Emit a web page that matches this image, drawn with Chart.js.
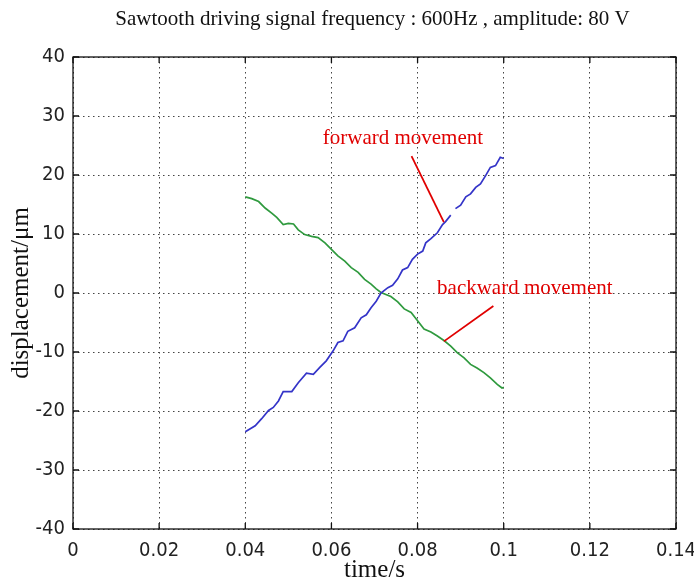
<!DOCTYPE html>
<html>
<head>
<meta charset="utf-8">
<script src="https://cdn.jsdelivr.net/npm/chart.js@4.4.0/dist/chart.umd.min.js"></script>
<style>
  body { margin: 0; background: #fff; }
</style>
</head>
<body>
<canvas id="fonny" width="694" height="585"></canvas>
<script>
const titleText = 'Sawtooth driving signal frequency : 600Hz , amplitude: 80 V';
const xTitle = 'time/s';
const yTitle = 'displacement/\u03bcm';

const xTicks = [0, 0.02, 0.04, 0.06, 0.08, 0.1, 0.12, 0.14];
const xTickLabels = ['0', '0.02', '0.04', '0.06', '0.08', '0.1', '0.12', '0.14'];
const yTicks = [-40, -30, -20, -10, 0, 10, 20, 30, 40];

// forward movement (blue), null = the small break in the trace
const forwardTime = [
    0.0400, 0.0423, 0.0438, 0.0454, 0.0465, 0.0477, 0.0488, 0.0508, 0.0523, 0.0542,
    0.0558, 0.0573, 0.0588, 0.0604, 0.0615, 0.0627, 0.0638, 0.0654, 0.0669, 0.0681,
    0.0692, 0.0704, 0.0715, 0.0731, 0.0742, 0.0754, 0.0765, 0.0777, 0.0788, 0.0800,
    0.0812, 0.0819, 0.0831, 0.0846, 0.0858, 0.0865, 0.0877, 0.0881, 0.0888, 0.0900,
    0.0912, 0.0923, 0.0935, 0.0946, 0.0958, 0.0969, 0.0981, 0.0992, 0.1000
];
const forwardDisp = [
    -23.5, -22.5, -21.3, -19.9, -19.4, -18.3, -16.7, -16.7, -15.2, -13.6,
    -13.8, -12.6, -11.5, -9.8, -8.4, -8.1, -6.5, -5.9, -4.2, -3.7,
    -2.5, -1.4, 0.0, 0.9, 1.3, 2.4, 3.9, 4.3, 5.7, 6.6,
    7.1, 8.5, 9.2, 10.2, 11.6, 12.1, 13.2, null, 14.3, 14.9,
    16.3, 16.8, 17.9, 18.5, 19.9, 21.3, 21.6, 23.0, 22.8
];

// backward movement (green)
const backwardTime = [
    0.0400, 0.0415, 0.0431, 0.0446, 0.0462, 0.0473, 0.0488, 0.0500, 0.0512, 0.0523,
    0.0538, 0.0554, 0.0569, 0.0585, 0.0600, 0.0615, 0.0631, 0.0646, 0.0662, 0.0677,
    0.0692, 0.0704, 0.0715, 0.0738, 0.0754, 0.0769, 0.0785, 0.0800, 0.0815, 0.0831,
    0.0846, 0.0862, 0.0877, 0.0892, 0.0908, 0.0923, 0.0938, 0.0954, 0.0969, 0.0985,
    0.0996, 0.1000
];
const backwardDisp = [
    16.3, 16.0, 15.5, 14.4, 13.5, 12.8, 11.6, 11.8, 11.7, 10.7,
    9.9, 9.6, 9.4, 8.5, 7.4, 6.3, 5.4, 4.3, 3.5, 2.3,
    1.5, 0.7, 0.1, -0.6, -1.5, -2.7, -3.3, -4.7, -6.1, -6.6,
    -7.3, -8.1, -9.0, -10.1, -11.0, -12.1, -12.7, -13.5, -14.4, -15.5,
    -16.1, -16.0
];

// annotation texts with their pointer lines, in data units
const noteLabels = ['forward movement', 'backward movement'];
const noteTextAt = [[0.0766, 26.2], [0.1049, 0.7]];
const noteLineFrom = [[0.0786, 23.2], [0.0976, -2.2]];
const noteLineTo = [[0.0861, 12.0], [0.0861, -8.2]];

const tickFont = { family: '"Liberation Sans Narrow", "DejaVu Sans Condensed", Arial, sans-serif', size: 20 };
const serif = '"Liberation Serif", "Times New Roman", serif';

function points(ts, vs) {
    return ts.map((t, i) => ({ x: t, y: vs[i] }));
}

const framePlugin = {
    id: 'frame',
    afterDraw(chart) {
        const ctx = chart.ctx;
        const a = chart.chartArea;
        const x = chart.scales.x, y = chart.scales.y;
        ctx.save();
        ctx.strokeStyle = '#111';
        ctx.lineWidth = 1.3;
        ctx.strokeRect(a.left, a.top, a.right - a.left, a.bottom - a.top);
        // matlab style inner ticks
        ctx.beginPath();
        xTicks.forEach(v => {
            const px = x.getPixelForValue(v);
            ctx.moveTo(px, a.bottom); ctx.lineTo(px, a.bottom - 6);
            ctx.moveTo(px, a.top); ctx.lineTo(px, a.top + 6);
        });
        yTicks.forEach(v => {
            const py = y.getPixelForValue(v);
            ctx.moveTo(a.left, py); ctx.lineTo(a.left + 6, py);
            ctx.moveTo(a.right, py); ctx.lineTo(a.right - 6, py);
        });
        ctx.stroke();

        // title
        ctx.fillStyle = '#111';
        ctx.font = '21px ' + serif;
        ctx.textAlign = 'center';
        ctx.textBaseline = 'middle';
        ctx.fillText(titleText, (a.left + a.right) / 2 - 2, 19);

        // annotations
        ctx.strokeStyle = '#e00000';
        ctx.fillStyle = '#e00000';
        ctx.lineWidth = 1.8;
        ctx.font = '21px ' + serif;
        noteLabels.forEach((txt, i) => {
            ctx.beginPath();
            ctx.moveTo(x.getPixelForValue(noteLineFrom[i][0]), y.getPixelForValue(noteLineFrom[i][1]));
            ctx.lineTo(x.getPixelForValue(noteLineTo[i][0]), y.getPixelForValue(noteLineTo[i][1]));
            ctx.stroke();
            ctx.fillText(txt, x.getPixelForValue(noteTextAt[i][0]), y.getPixelForValue(noteTextAt[i][1]));
        });
        ctx.restore();
    }
};

const myChart = new Chart('fonny', {
    type: 'line',
    data: {
        datasets: [{
            label: 'forward',
            data: points(forwardTime, forwardDisp),
            borderColor: '#3434c8',
            borderWidth: 1.7,
            pointRadius: 0,
            tension: 0,
            spanGaps: false
        }, {
            label: 'backward',
            data: points(backwardTime, backwardDisp),
            borderColor: '#2f9a3e',
            borderWidth: 1.7,
            pointRadius: 0,
            tension: 0
        }]
    },
    options: {
        responsive: false,
        animation: false,
        devicePixelRatio: 1,
        layout: { padding: { top: 57, right: 18, left: 0, bottom: 0 } },
        plugins: {
            legend: { display: false },
            tooltip: { enabled: false }
        },
        scales: {
            x: {
                type: 'linear',
                min: 0,
                max: 0.14,
                afterBuildTicks: s => { s.ticks = xTicks.map(v => ({ value: v })); },
                afterFit: s => { s.height = 56; s.paddingRight = 0; s.paddingLeft = 0; },
                ticks: {
                    callback: (v, i) => xTickLabels[i],
                    font: tickFont,
                    color: '#222',
                    padding: 10,
                    maxRotation: 0,
                    autoSkip: false
                },
                grid: { color: '#444', lineWidth: 1, drawTicks: false },
                border: { display: false, dash: [1.5, 3.5] },
                title: {
                    display: true,
                    text: xTitle,
                    color: '#111',
                    font: { family: serif, size: 25, lineHeight: 1 },
                    padding: { top: 0, bottom: 2 }
                }
            },
            y: {
                min: -40,
                max: 40,
                afterBuildTicks: s => { s.ticks = yTicks.map(v => ({ value: v })); },
                afterFit: s => { s.width = 73; s.paddingTop = 0; s.paddingBottom = 0; },
                ticks: {
                    font: tickFont,
                    color: '#222',
                    padding: 8
                },
                grid: { color: '#444', lineWidth: 1, drawTicks: false },
                border: { display: false, dash: [1.5, 3.5] },
                title: {
                    display: true,
                    text: yTitle,
                    color: '#111',
                    font: { family: serif, size: 25, lineHeight: 1 },
                    padding: { top: 9, bottom: 0 }
                }
            }
        }
    },
    plugins: [framePlugin]
});
</script>
</body>
</html>
